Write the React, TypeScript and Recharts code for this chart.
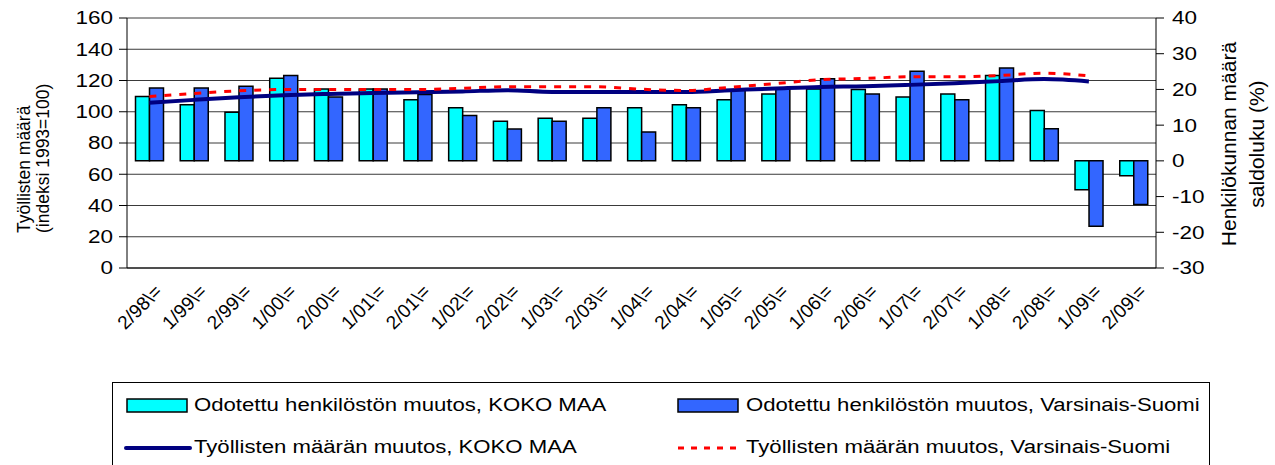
import React from 'react';
import { ComposedChart, Bar, Line, XAxis, YAxis, CartesianGrid } from 'recharts';

const periods = [
  '2/98\\=', '1/99\\=', '2/99\\=', '1/00\\=', '2/00\\=', '1/01\\=', '2/01\\=', '1/02\\=',
  '2/02\\=', '1/03\\=', '2/03\\=', '1/04\\=', '2/04\\=', '1/05\\=', '2/05\\=', '1/06\\=',
  '2/06\\=', '1/07\\=', '2/07\\=', '1/08\\=', '2/08\\=', '1/09\\=', '2/09\\='
];

// odotettu henkilöstön muutos (saldoluku, oikea akseli)
const expectedKokoMaa = [18, 15.7, 13.6, 23.1, 20.1, 20.1, 17.1, 14.9, 11.1, 11.9, 11.9, 14.9, 15.7, 17.1, 18.7, 20.1, 20, 17.9, 18.7, 23.9, 14.1, -8.1, -4.2];
const expectedVarsinais = [20.4, 20.4, 20.9, 23.9, 17.9, 20.1, 18.6, 12.7, 8.9, 11.1, 14.9, 8.1, 14.9, 19.8, 20.1, 23, 18.7, 25.1, 17.1, 26, 9, -18.3, -12.2];

// työllisten määrä (indeksi 1993=100, vasen akseli)
const employedKokoMaa = [105.7, 107.6, 109.3, 110.6, 111.4, 112, 112.5, 113, 113.8, 112.7, 112.7, 112.7, 112.7, 113.8, 114.9, 115.9, 116.3, 117.2, 118.3, 119.6, 120.9, 119.4, null];
const employedVarsinais = [109.7, 111.7, 113.4, 114.2, 114.2, 114.2, 114.2, 115, 116, 116, 116, 114.4, 113.6, 115.7, 118, 120.5, 121.3, 122.4, 122.4, 123.2, 124.7, 123, null];

const leftTicks = [0, 20, 40, 60, 80, 100, 120, 140, 160];
const rightTicks = [-30, -20, -10, 0, 10, 20, 30, 40];
const edgeTicks = periods.map((_, i) => i).concat(periods.length);

const data = periods.map((p, i) => ({
  period: p,
  kokoBar: expectedKokoMaa[i],
  vsBar: expectedVarsinais[i],
  kokoLine: employedKokoMaa[i],
  vsLine: employedVarsinais[i]
}));

const FONT = '"Liberation Sans", Arial, sans-serif';

const LeftTick = ({ x, y, payload }: any) => (
  <g transform={`translate(${x},${y})`}>
    <text textAnchor="end" dy="0.36em" transform="scale(1.25,1)" fontSize={18} fontFamily={FONT} fill="#000">{payload.value}</text>
  </g>
);

const RightTick = ({ x, y, payload }: any) => (
  <g transform={`translate(${x},${y})`}>
    <text textAnchor="start" dy="0.36em" transform="scale(1.25,1)" fontSize={18} fontFamily={FONT} fill="#000">{payload.value}</text>
  </g>
);

const PeriodTick = ({ x, y, payload }: any) => (
  <text x={x + 4} y={y + 7} dy="0.72em" textAnchor="end" transform={`rotate(-45, ${x + 4}, ${y + 7})`} fontSize={19} fontFamily={FONT} fill="#000">
    {payload.value}
  </text>
);

const LeftTitle = ({ viewBox }: any) => {
  const bottom = viewBox.y + 215;
  return (
    <g fontSize={17.5} fontFamily={FONT} fill="#000">
      <text x={24} y={bottom} textAnchor="start" dominantBaseline="central" transform={`rotate(-90, 24, ${bottom})`}>Työllisten määrä</text>
      <text x={43} y={bottom} textAnchor="start" dominantBaseline="central" transform={`rotate(-90, 43, ${bottom})`}>(indeksi 1993=100)</text>
    </g>
  );
};

const RightTitle = ({ viewBox }: any) => {
  const mid = viewBox.y + 126;
  return (
    <g fontSize={21} fontFamily={FONT} fill="#000">
      <text x={1228} y={mid} textAnchor="middle" dominantBaseline="central" transform={`rotate(-90, 1228, ${mid})`}>Henkilökunnan määrä</text>
      <text x={1256} y={mid} textAnchor="middle" dominantBaseline="central" transform={`rotate(-90, 1256, ${mid})`}>saldoluku (%)</text>
    </g>
  );
};

const legendText: React.CSSProperties = {
  position: 'absolute',
  fontSize: 18,
  fontFamily: FONT,
  color: '#000',
  whiteSpace: 'nowrap',
  transform: 'scaleX(1.23)',
  transformOrigin: 'left center',
  lineHeight: '20px'
};

function ChartLegend() {
  return (
    <div style={{ position: 'absolute', left: 112, top: 382, width: 1098, height: 90, border: '1px solid #000', borderBottom: 'none', boxSizing: 'border-box' }}>
      <svg width={1098} height={90} style={{ position: 'absolute', left: 0, top: 0 }}>
        <rect x={14} y={16} width={60} height={13} fill="#00FFFF" stroke="#000" strokeWidth={1.5} />
        <rect x={565} y={16} width={60} height={13} fill="#3366FF" stroke="#000" strokeWidth={1.5} />
        <line x1={13} x2={77} y1={65} y2={65} stroke="#000080" strokeWidth={4} strokeLinecap="round" />
        <line x1={565} x2={627} y1={65} y2={65} stroke="#FF0000" strokeWidth={3} strokeDasharray="6 7" />
      </svg>
      <span style={{ ...legendText, left: 81, top: 12 }}>Odotettu henkilöstön muutos, KOKO MAA</span>
      <span style={{ ...legendText, left: 633, top: 12 }}>Odotettu henkilöstön muutos, Varsinais-Suomi</span>
      <span style={{ ...legendText, left: 81, top: 54 }}>Työllisten määrän muutos, KOKO MAA</span>
      <span style={{ ...legendText, left: 633, top: 54 }}>Työllisten määrän muutos, Varsinais-Suomi</span>
    </div>
  );
}

export default function App() {
  return (
    <div style={{ position: 'absolute', left: 0, top: 0, width: 1275, height: 465, background: '#fff', overflow: 'hidden' }}>
      <ComposedChart width={1275} height={380} data={data} margin={{ top: 18, right: 0, bottom: 0, left: 0 }} barCategoryGap="19%" barGap={0}>
        <CartesianGrid yAxisId="left" xAxisId="b_cat" vertical={false} stroke="#3a3a3a" strokeWidth={1} />
        <XAxis xAxisId="a_edges" type="number" dataKey="idx" domain={[0, periods.length]} ticks={edgeTicks} tick={false} tickSize={7} height={8} stroke="#000" allowDataOverflow />
        <XAxis xAxisId="b_cat" dataKey="period" interval={0} tickLine={false} axisLine={false} tickSize={0} tickMargin={0} height={104} tick={<PeriodTick />} />
        <YAxis yAxisId="left" orientation="left" domain={[0, 160]} ticks={leftTicks} width={127} tickSize={8} tickMargin={6} stroke="#000" tick={<LeftTick />} label={<LeftTitle />} />
        <YAxis yAxisId="right" orientation="right" domain={[-30, 40]} ticks={rightTicks} width={119} tickSize={8} tickMargin={8} stroke="#000" tick={<RightTick />} label={<RightTitle />} />
        <Bar xAxisId="b_cat" yAxisId="right" dataKey="kokoBar" fill="#00FFFF" stroke="#000" strokeWidth={1.5} isAnimationActive={false} />
        <Bar xAxisId="b_cat" yAxisId="right" dataKey="vsBar" fill="#3366FF" stroke="#000" strokeWidth={1.5} isAnimationActive={false} />
        <Line xAxisId="b_cat" yAxisId="left" type="monotone" dataKey="kokoLine" stroke="#000080" strokeWidth={4} dot={false} activeDot={false} isAnimationActive={false} />
        <Line xAxisId="b_cat" yAxisId="left" type="monotone" dataKey="vsLine" stroke="#FF0000" strokeWidth={3} strokeDasharray="7 8" dot={false} activeDot={false} isAnimationActive={false} />
      </ComposedChart>
      <ChartLegend />
    </div>
  );
}
